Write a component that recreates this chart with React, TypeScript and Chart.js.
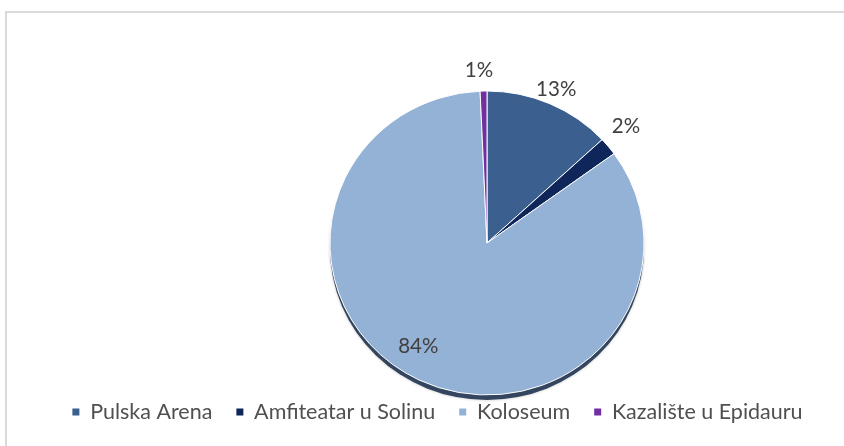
import React, { useEffect, useRef } from 'react';
import { Chart, registerables } from 'chart.js';

Chart.register(...registerables);

const categories = ['Pulska Arena', 'Amfiteatar u Solinu', 'Koloseum', 'Kazalište u Epidauru'];
const values = [13.1, 1.9, 84.3, 0.7];
const colors = ['#3b5f8f', '#0e2659', '#94b1d6', '#7030a0'];
// data label placement: radial offset from pie edge (px) and angle shift (deg)
const labelRadialOffset = [16, 27, -30, 22];
const labelAngleShift = [0, -1.5, 7, -1.3];

const FONT = 'Lato, "Open Sans", sans-serif';
const PIE_RADIUS = 157;
const TILT = 0.968;
const DEPTH = 5;
const PIE_SHIFT_X = 49.5;

const shiftPlugin = {
  id: 'pieShift',
  afterLayout(chart: any) {
    const a = chart.chartArea;
    a.left += PIE_SHIFT_X;
    a.right += PIE_SHIFT_X;
  },
};

const tiltPlugin = {
  id: 'pieTilt',
  beforeDatasetsDraw(chart: any) {
    const meta = chart.getDatasetMeta(0);
    const arc = meta.data[0];
    if (!arc) return;
    const { x, y, outerRadius } = arc.getProps(['x', 'y', 'outerRadius'], true);
    const ctx = chart.ctx;
    ctx.save();
    ctx.translate(x, y);
    ctx.scale(1, TILT);
    ctx.translate(-x, -y);
    // 3D side of the pie
    ctx.save();
    ctx.beginPath();
    ctx.arc(x, y + DEPTH / TILT, outerRadius, 0, Math.PI * 2);
    ctx.fillStyle = '#34465f';
    ctx.shadowColor = 'rgba(0,0,0,0.25)';
    ctx.shadowBlur = 3;
    ctx.fill();
    ctx.restore();
  },
  afterDatasetsDraw(chart: any) {
    const meta = chart.getDatasetMeta(0);
    if (!meta.data[0]) return;
    const ctx = chart.ctx;
    ctx.restore();
    const total = values.reduce((s, v) => s + v, 0);
    ctx.save();
    ctx.font = `20.5px ${FONT}`;
    ctx.fillStyle = '#404040';
    ctx.textAlign = 'center';
    ctx.textBaseline = 'middle';
    meta.data.forEach((el: any, i: number) => {
      const { x, y, startAngle, endAngle, outerRadius } = el.getProps(
        ['x', 'y', 'startAngle', 'endAngle', 'outerRadius'],
        true
      );
      const mid = (startAngle + endAngle) / 2 + (labelAngleShift[i] * Math.PI) / 180;
      const r = outerRadius + labelRadialOffset[i];
      const lx = x + r * Math.cos(mid);
      const ly = y + TILT * r * Math.sin(mid);
      const pct = Math.round((values[i] / total) * 100) + '%';
      ctx.fillText(pct, lx, ly);
    });
    ctx.restore();
  },
};

export default function App() {
  const canvasRef = useRef<HTMLCanvasElement | null>(null);

  useEffect(() => {
    if (!canvasRef.current) return;
    const chart = new Chart(canvasRef.current, {
      type: 'pie',
      data: {
        labels: categories,
        datasets: [
          {
            data: values,
            backgroundColor: colors,
            borderColor: '#ffffff',
            borderWidth: 1,
            clip: false as any,
          },
        ],
      },
      options: {
        animation: false,
        responsive: true,
        maintainAspectRatio: false,
        radius: PIE_RADIUS,
        layout: { padding: { left: 31, right: 0, top: 108.75, bottom: 13.25 } },
        plugins: {
          tooltip: { enabled: false },
          legend: {
            display: true,
            position: 'bottom',
            labels: {
              usePointStyle: true,
              pointStyle: 'rect',
              boxWidth: 7,
              boxHeight: 7,
              padding: 24,
              color: '#505050',
              font: { family: FONT, size: 21.5 },
              generateLabels: (c: any) => {
                const base = (Chart as any).overrides.pie.plugins.legend.labels.generateLabels(c);
                return base.map((it: any) => ({ ...it, lineWidth: 0, pointStyle: 'rect' }));
              },
            },
          },
        },
      } as any,
      plugins: [shiftPlugin, tiltPlugin],
    });
    return () => chart.destroy();
  }, []);

  return (
    <div style={{ position: 'fixed', left: 0, top: 0, width: 844, height: 446, background: '#ffffff' }}>
      <div
        style={{
          position: 'absolute',
          left: 5,
          top: 11,
          right: -4,
          bottom: -4,
          borderLeft: '2px solid #d9d9d9',
          borderTop: '2px solid #d9d9d9',
        }}
      />
      <canvas ref={canvasRef} style={{ position: 'absolute', left: 0, top: 0 }} />
    </div>
  );
}
